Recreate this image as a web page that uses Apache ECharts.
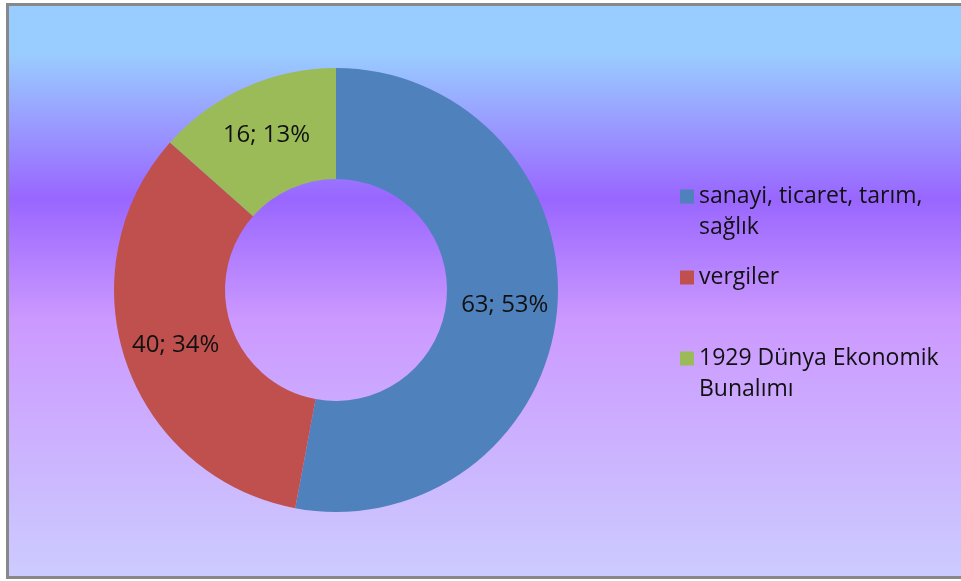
<!DOCTYPE html>
<html>
<head>
<meta charset="utf-8">
<script src="https://cdn.jsdelivr.net/npm/echarts@6/dist/echarts.min.js"></script>
<style>
html,body{margin:0;padding:0;background:#fff;}
#chart{width:961px;height:581px;}
</style>
</head>
<body>
<div id="chart"></div>
<script>
const categories = ['sanayi, ticaret, tarım, sağlık', 'vergiler', '1929 Dünya Ekonomik Bunalımı'];
const legendLabels = ['sanayi, ticaret, tarım,\nsağlık', 'vergiler', '1929 Dünya Ekonomik\nBunalımı'];
const values = [63, 40, 16];
const percents = [53, 34, 13];
const colors = ['#4F81BD', '#C0504D', '#9BBB59'];

const chart = echarts.init(document.getElementById('chart'));
const data = categories.map((c, i) => ({ name: c, value: values[i], itemStyle: { color: colors[i] } }));
const legendMap = {};
categories.forEach((c, i) => { legendMap[c] = legendLabels[i]; });

chart.setOption({
  animation: false,
  graphic: [{
    type: 'rect',
    silent: true,
    z: -10,
    shape: { x: 7.5, y: 4.5, width: 960, height: 573 },
    style: {
      stroke: '#888888',
      lineWidth: 3,
      fill: new echarts.graphic.LinearGradient(0, 0, 0, 1, [
        { offset: 0, color: '#99CCFF' },
        { offset: 0.09, color: '#99CCFF' },
        { offset: 0.34, color: '#9966FF' },
        { offset: 0.55, color: '#CC99FF' },
        { offset: 1, color: '#CCCCFF' }
      ])
    }
  }],
  legend: {
    orient: 'vertical',
    left: 680,
    top: 150,
    padding: 0,
    itemGap: 19,
    itemWidth: 14,
    itemHeight: 14,
    icon: 'rect',
    data: categories,
    formatter: function (name) {
      const t = legendMap[name];
      return t.indexOf('\n') >= 0 ? '\n' + t : t;
    },
    textStyle: {
      fontFamily: 'Open Sans',
      fontSize: 23,
      lineHeight: 31,
      color: '#111111'
    }
  },
  series: [{
    type: 'pie',
    center: [336, 290],
    radius: [111, 222],
    startAngle: 90,
    clockwise: true,
    avoidLabelOverlap: false,
    data: data,
    label: {
      show: true,
      position: 'inside',
      fontFamily: 'Open Sans',
      fontSize: 24,
      color: '#111111',
      formatter: function (p) { return values[p.dataIndex] + '; ' + percents[p.dataIndex] + '%'; }
    },
    labelLine: { show: false },
    emphasis: { disabled: true }
  }]
});
</script>
</body>
</html>
